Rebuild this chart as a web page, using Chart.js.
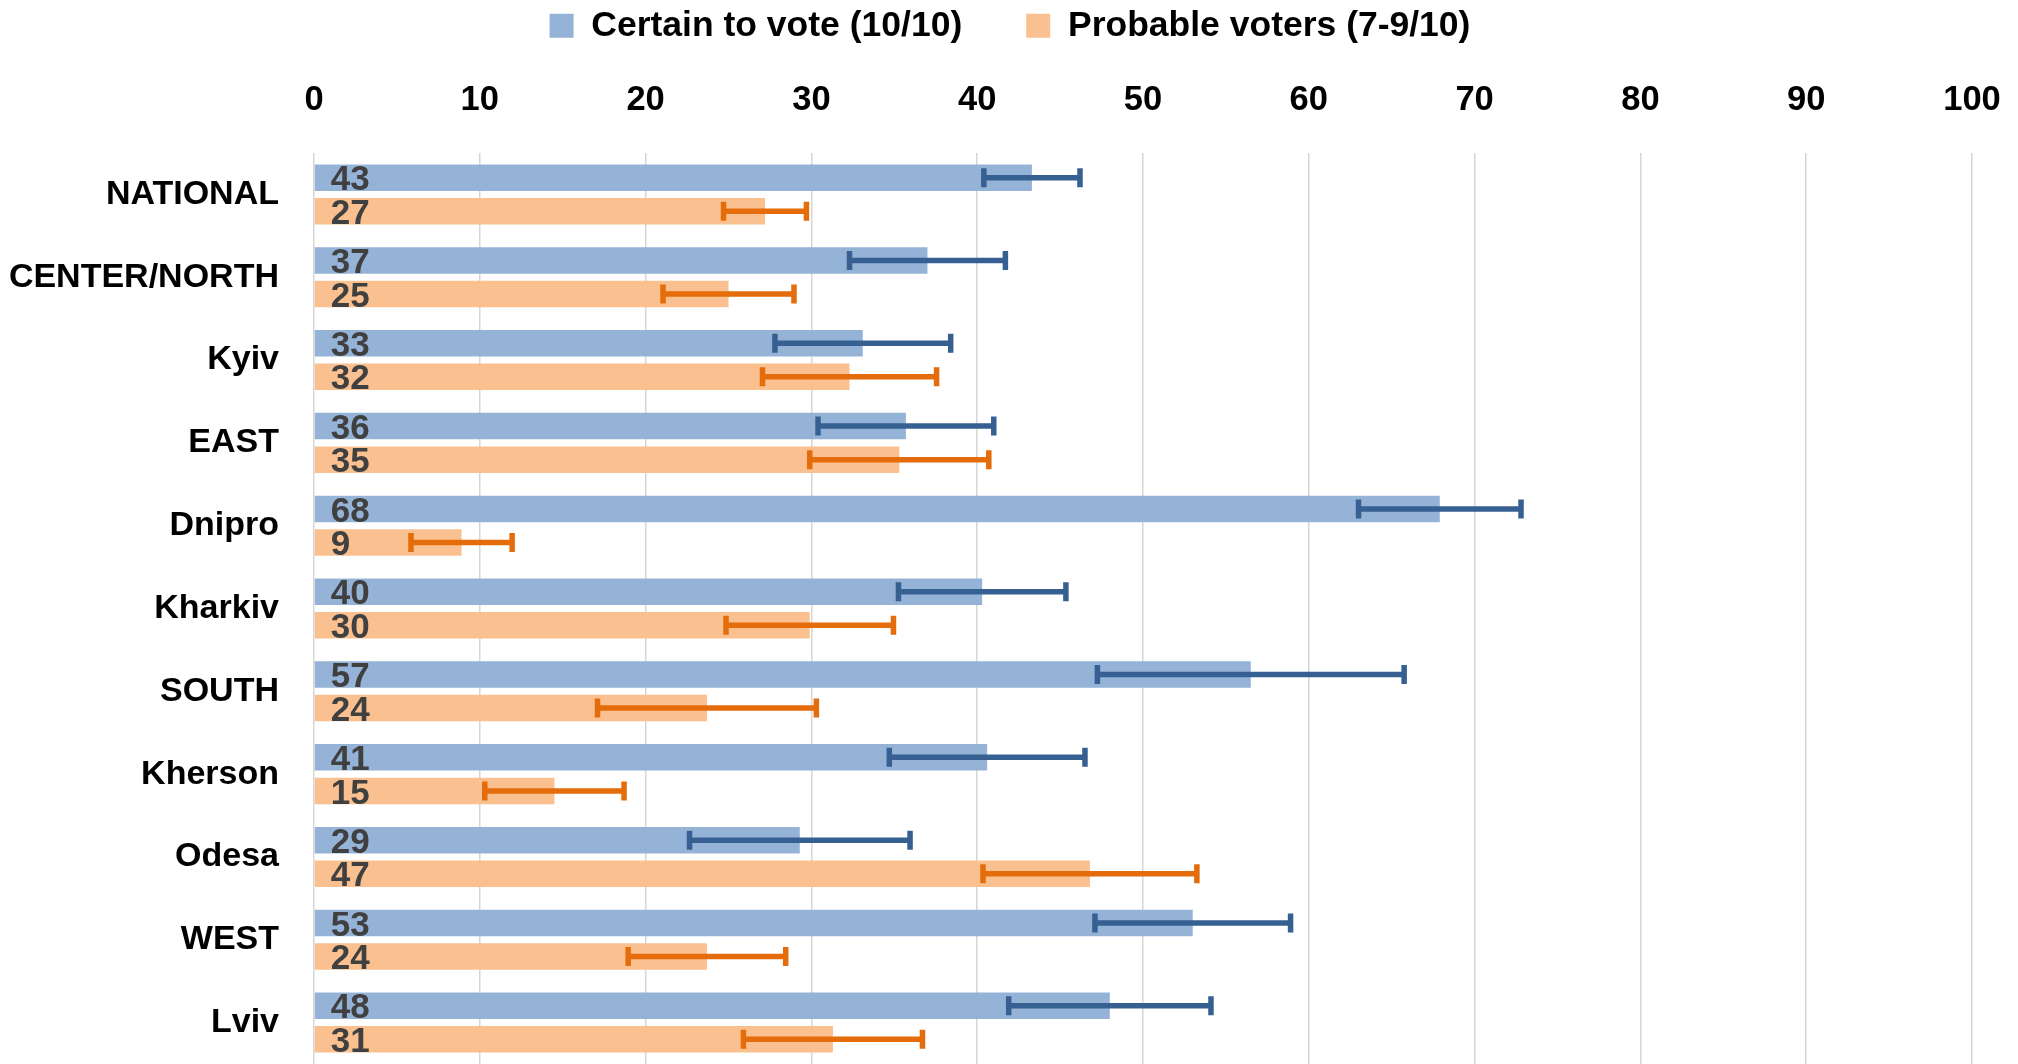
<!DOCTYPE html>
<html>
<head>
<meta charset="utf-8">
<script src="https://cdn.jsdelivr.net/npm/chart.js@4/dist/chart.umd.min.js"></script>
<style>
    html, body { margin: 0; padding: 0; background: #fff; }
    #wrap { width: 2018px; height: 1064px; }
</style>
</head>
<body>
<div id="wrap"><canvas id="chartCanvas"></canvas></div>
<script>
const categories = ['NATIONAL', 'CENTER/NORTH', 'Kyiv', 'EAST', 'Dnipro', 'Kharkiv', 'SOUTH', 'Kherson', 'Odesa', 'WEST', 'Lviv']
const certain = [43.3, 37.0, 33.1, 35.7, 67.9, 40.3, 56.5, 40.6, 29.3, 53.0, 48.0]
const certainErr = [2.9, 4.7, 5.3, 5.3, 4.9, 5.05, 9.25, 5.9, 6.65, 5.9, 6.1]
const probable = [27.2, 25.0, 32.3, 35.3, 8.9, 29.9, 23.7, 14.5, 46.8, 23.7, 31.3]
const probableErr = [2.5, 3.95, 5.25, 5.4, 3.05, 5.05, 6.6, 4.2, 6.45, 4.75, 5.4]
const xTicks = [0, 10, 20, 30, 40, 50, 60, 70, 80, 90, 100]

const FONT = "'Liberation Sans', Arial, sans-serif"
const PLOT_TOP = 153
const LAYOUT_TOP = -56

// error bars + value labels drawn on top of the bars
const barExtras = {
    id: 'barExtras',
    afterLayout(chart) {
        // legend row counts its trailing padding when centring; nudge it back
        chart.legend.left += 24
        chart.legend.right += 24
    },
    afterDatasetsDraw(chart) {
        const ctx = chart.ctx
        const xScale = chart.scales.x
        chart.data.datasets.forEach((ds, di) => {
            const meta = chart.getDatasetMeta(di)
            meta.data.forEach((bar, i) => {
                const v = ds.data[i]
                const e = ds.errors[i]
                const x1 = xScale.getPixelForValue(v - e)
                const x2 = xScale.getPixelForValue(v + e)
                const y = bar.y
                ctx.save()
                ctx.strokeStyle = ds.errorColor
                ctx.lineWidth = 5.5
                ctx.beginPath()
                ctx.moveTo(x1, y)
                ctx.lineTo(x2, y)
                ctx.moveTo(x1, y - 9.5)
                ctx.lineTo(x1, y + 9.5)
                ctx.moveTo(x2, y - 9.5)
                ctx.lineTo(x2, y + 9.5)
                ctx.stroke()

                ctx.fillStyle = '#404040'
                ctx.font = "bold 35px " + FONT
                ctx.textAlign = 'left'
                ctx.textBaseline = 'middle'
                ctx.fillText(String(Math.round(v)), bar.base + 16, bar.y + 3)
                ctx.restore()
            })
        })
    }
}

const ctx = document.getElementById('chartCanvas').getContext('2d')
new Chart(ctx, {
    type: 'bar',
    data: {
        labels: categories,
        datasets: [{
            label: 'Certain to vote (10/10)',
            data: certain,
            errors: certainErr,
            errorColor: '#376092',
            backgroundColor: '#95B3D7',
            categoryPercentage: 0.81,
            barPercentage: 0.79
        }, {
            label: 'Probable voters (7-9/10)',
            data: probable,
            errors: probableErr,
            errorColor: '#E46C0A',
            backgroundColor: '#FAC090',
            categoryPercentage: 0.81,
            barPercentage: 0.79
        }]
    },
    options: {
        indexAxis: 'y',
        responsive: true,
        maintainAspectRatio: false,
        animation: false,
        layout: { padding: { left: 0, right: 46, top: LAYOUT_TOP, bottom: -6 } },
        plugins: {
            tooltip: { enabled: false },
            legend: {
                position: 'top',
                labels: {
                    color: '#000',
                    font: { family: FONT, size: 35.5, weight: 'bold' },
                    boxWidth: 24,
                    boxHeight: 24,
                    padding: 64
                }
            }
        },
        scales: {
            x: {
                position: 'top',
                min: 0,
                max: 100,
                afterBuildTicks: scale => { scale.ticks = xTicks.map(v => ({ value: v })) },
                afterFit: scale => {
                    const lg = scale.chart.legend
                    scale.height = PLOT_TOP - LAYOUT_TOP - (lg ? lg.height : 164)
                    scale.paddingLeft = 0
                    scale.paddingRight = 0
                },
                grid: { color: '#D6D6D6', lineWidth: 1.5, drawTicks: false },
                border: { display: false },
                ticks: {
                    color: '#000',
                    padding: 32,
                    font: { family: FONT, size: 34.5, weight: 'bold' }
                }
            },
            y: {
                afterFit: scale => {
                    scale.width = 314
                    scale.paddingTop = 0
                    scale.paddingBottom = 0
                },
                grid: { display: false },
                border: { display: false },
                ticks: {
                    color: '#000',
                    padding: 27,
                    font: { family: FONT, size: 34, weight: 'bold' }
                }
            }
        }
    },
    plugins: [barExtras]
})
</script>
</body>
</html>
